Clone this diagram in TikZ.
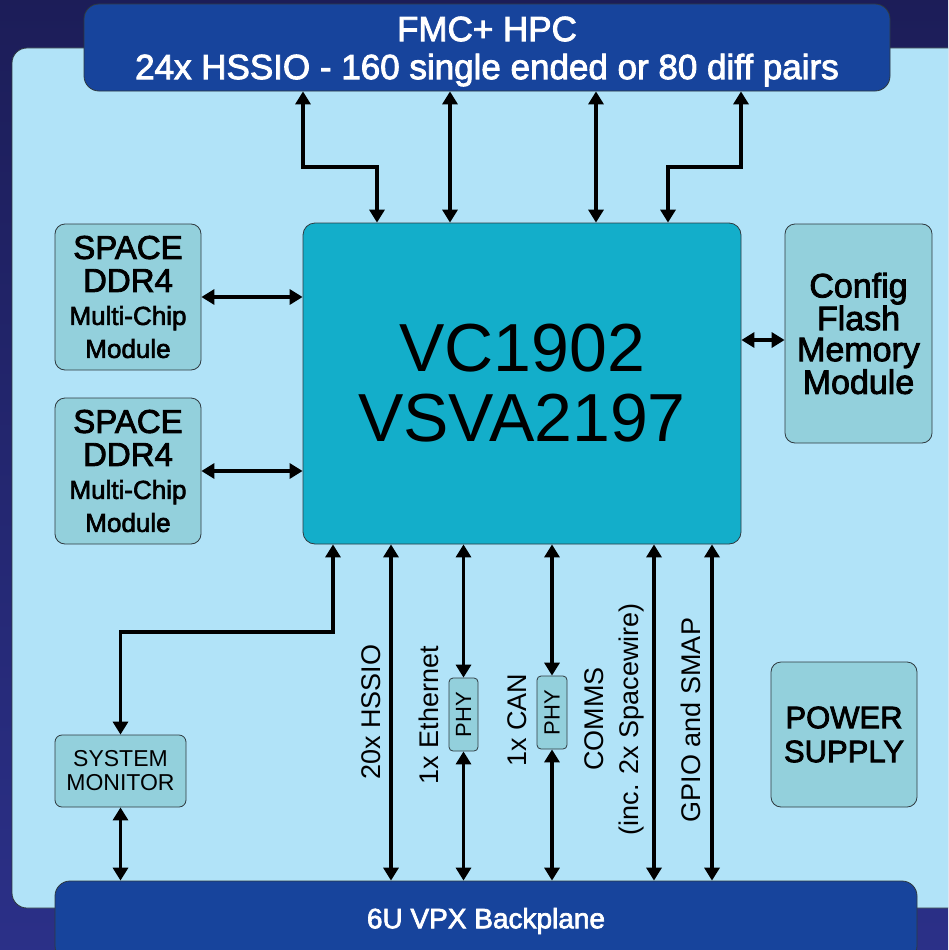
\documentclass[tikz,border=0pt]{standalone}
\usepackage{fontspec}
\setmainfont{Liberation Sans}
\newfontfamily\medfont[FakeBold=2.5]{Liberation Sans}
\usetikzlibrary{arrows.meta,calc}
\definecolor{bgtop}{HTML}{1C1D58}
\definecolor{bgbot}{HTML}{2B3088}
\definecolor{panelc}{HTML}{B1E3F8}
\definecolor{navy}{HTML}{17449C}
\definecolor{chipc}{HTML}{13AECA}
\definecolor{boxc}{HTML}{93D0DC}
\definecolor{edgec}{HTML}{2F3A40}
\tikzset{
  blk/.style={draw=edgec, line width=0.8pt, inner sep=0pt, align=center, text=black},
  smallblk/.style={blk, fill=boxc, rounded corners=10pt},
  navyblk/.style={blk, fill=navy, text=white, rounded corners=15pt},
  arr/.style={line width=3.5pt, {Triangle[width=15pt,length=13pt]}-{Triangle[width=15pt,length=13pt]}},
  lab/.style={rotate=90, inner sep=0pt, align=center, font=\fontsize{27}{35}\selectfont},
}
\begin{document}
\begin{tikzpicture}[x=1pt,y=-1pt]
\useasboundingbox (0,0) rectangle (948,950);
\clip (0,0) rectangle (948,950);
\shade[top color=bgtop, bottom color=bgbot] (-5,-5) rectangle (953,955);
% panel
\draw[fill=panelc, draw=edgec, line width=0.8pt, rounded corners=15pt] (12,48) rectangle (980,908);

% blocks
\node[navyblk, minimum width=806, minimum height=87, font=\medfont\fontsize{35}{38}\selectfont] (fmc) at (487,47.5)
  {\raisebox{-5pt}[\height][\depth]{\begin{tabular}{@{}c@{}}FMC+ HPC\\24x HSSIO - 160 single ended or 80 diff pairs\end{tabular}}};
\node[blk, fill=chipc, rounded corners=12pt, minimum width=438, minimum height=321, font=\fontsize{68}{70}\selectfont] (chip) at (522,383.5)
  {VC1902\\VSVA2197};
\node[smallblk, minimum width=146, minimum height=146, font=\medfont\fontsize{33}{33}\selectfont] (ddra) at (128,297)
  {SPACE\\DDR4\\\fontsize{26}{23}\selectfont Multi-Chip\\\fontsize{26}{23}\selectfont Module};
\node[smallblk, minimum width=146, minimum height=146, font=\medfont\fontsize{33}{33}\selectfont] (ddrb) at (128,471)
  {SPACE\\DDR4\\\fontsize{26}{23}\selectfont Multi-Chip\\\fontsize{26}{23}\selectfont Module};
\node[smallblk, minimum width=147, minimum height=219, font=\medfont\fontsize{34}{31}\selectfont] (cfg) at (858.5,333.5)
  {Config\\Flash\\Memory\\Module};
\node[smallblk, rounded corners=7pt, minimum width=131, minimum height=72, font=\fontsize{23}{24}\selectfont] (sysmon) at (120.5,771)
  {SYSTEM\\MONITOR};
\node[smallblk, rounded corners=4pt, rotate=90, minimum width=73, minimum height=29, font=\fontsize{22}{24}\selectfont] (phya) at (463.5,714.5) {PHY};
\node[smallblk, rounded corners=4pt, rotate=90, minimum width=73, minimum height=30, font=\fontsize{22}{24}\selectfont] (phyb) at (552,712.5) {PHY};
\node[smallblk, minimum width=146, minimum height=145, font=\medfont\fontsize{31}{34}\selectfont] (psu) at (844,734.5)
  {POWER\\SUPPLY};
\node[navyblk, minimum width=862, minimum height=80, font=\medfont\fontsize{28}{30}\selectfont] (bp) at (486,921)
  {\raisebox{4pt}{6U VPX Backplane}};

% helper coordinates
\coordinate (ta) at (303,167);
\coordinate (tb) at (377,167);
\coordinate (tc) at (450,0);
\coordinate (td) at (596,0);
\coordinate (te) at (741,167);
\coordinate (tf) at (668,167);
\coordinate (ya) at (0,340);
\coordinate (ba) at (333,632);
\coordinate (bb) at (391,0);
\coordinate (bc) at (654,0);
\coordinate (bd) at (712,0);

% top connectors
\draw[arr] (fmc.south -| ta) -- (ta) -- (tb) -- (chip.north -| tb);
\draw[arr] (fmc.south -| tc) -- (chip.north -| tc);
\draw[arr] (fmc.south -| td) -- (chip.north -| td);
\draw[arr] (fmc.south -| te) -- (te) -- (tf) -- (chip.north -| tf);

% side connectors
\draw[arr] (ddra.east) -- (ddra.east -| chip.west);
\draw[arr] (ddrb.east) -- (ddrb.east -| chip.west);
\draw[arr] (chip.east |- ya) -- (cfg.west |- ya);

% bottom connectors
\draw[arr] (chip.south -| ba) -- (ba) -| (sysmon.north);
\draw[arr] (sysmon.south) -- (sysmon.south |- bp.north);
\draw[arr] (chip.south -| bb) -- (bp.north -| bb);
\draw[arr] (chip.south -| phya.east) -- (phya.east);
\draw[arr] (phya.west) -- (phya.west |- bp.north);
\draw[arr] (chip.south -| phyb.east) -- (phyb.east);
\draw[arr] (phyb.west) -- (phyb.west |- bp.north);
\draw[arr] (chip.south -| bc) -- (bp.north -| bc);
\draw[arr] (chip.south -| bd) -- (bp.north -| bd);

% labels
\node[lab] (lhssio) at (371,712) {20x HSSIO};
\node[lab] (leth) at (428.5,715) {1x Ethernet};
\node[lab] (lcan) at (517,720) {1x CAN};
\node[lab] (lcomms) at (614.5,719) {COMMS\\(inc. 2x Spacewire)};
\node[lab] (lgpio) at (691,720) {GPIO and SMAP};
\end{tikzpicture}
\end{document}
